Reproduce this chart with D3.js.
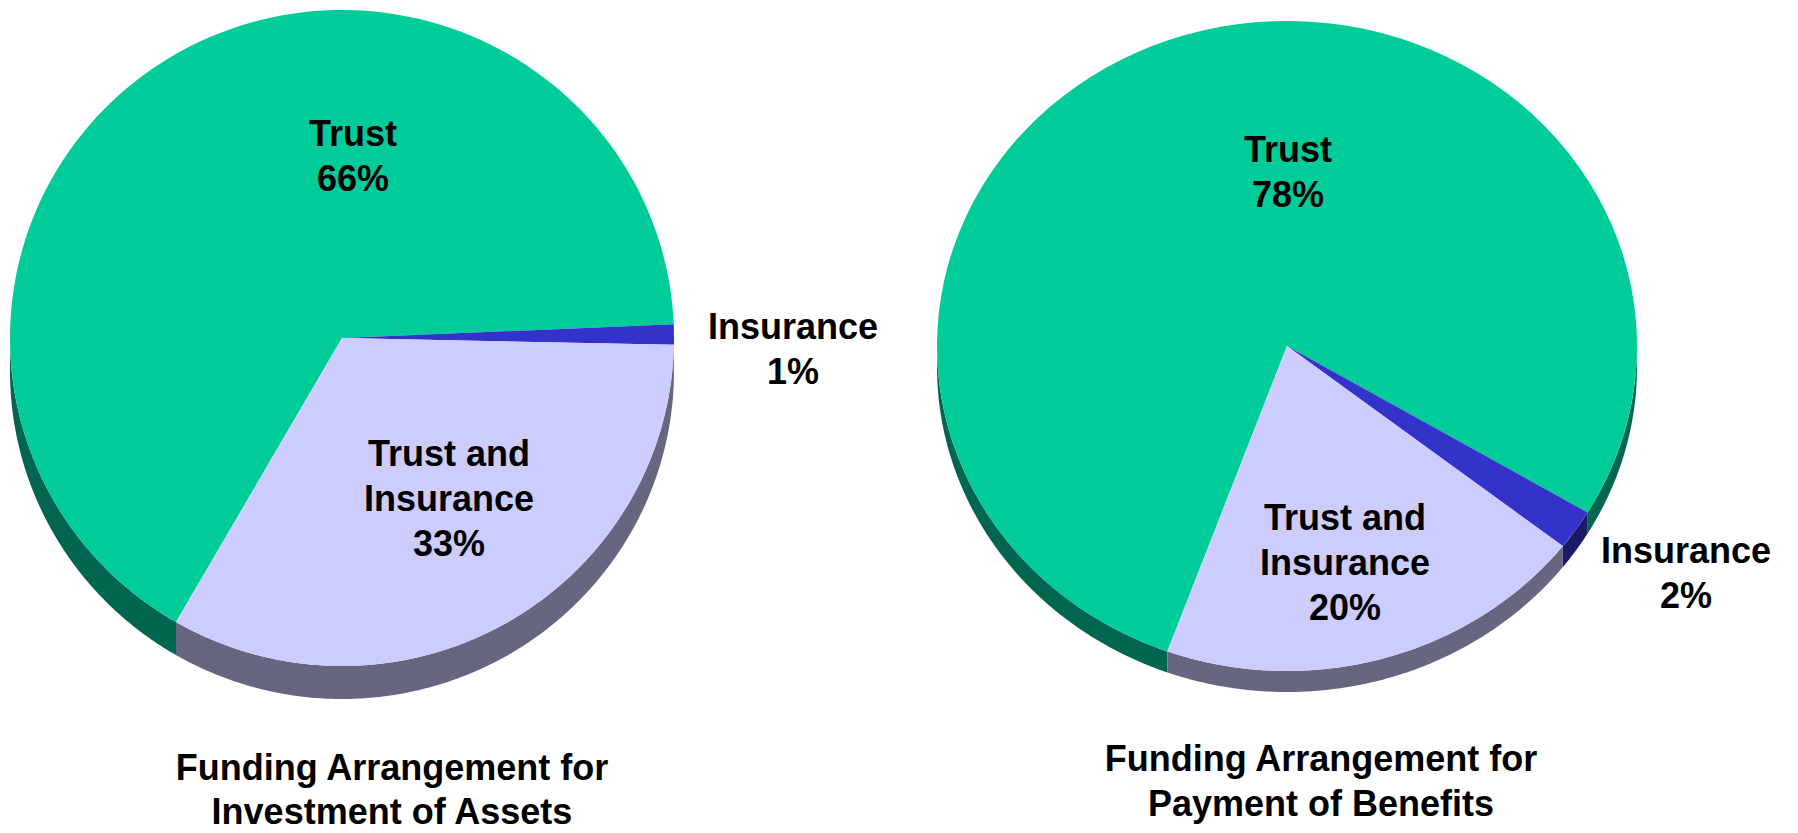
<!DOCTYPE html>
<html lang="en">
<head>
<meta charset="utf-8">
<title>Funding Arrangement</title>
<script src="https://d3js.org/d3.v7.min.js"></script>
<style>
    html, body {
        margin: 0;
        padding: 0;
        background: #fff;
    }
    svg {
        display: block;
    }
    .lbl {
        font-family: "Liberation Sans", Arial, sans-serif;
        font-weight: bold;
        font-size: 36px;
        fill: #000;
    }
</style>
</head>
<body>
<svg id="chart" width="1798" height="833"></svg>
<script>

//_____________________________DATA_____________________________
var categories = ["Trust", "Insurance", "Trust and Insurance"];
var labelLines = [["Trust"], ["Insurance"], ["Trust and", "Insurance"]];
var assetsValues = [66, 1, 33];
var benefitsValues = [78, 2, 20];
var chartTitles = [
    ["Funding Arrangement for", "Investment of Assets"],
    ["Funding Arrangement for", "Payment of Benefits"]
];

//_____________________________STYLE_____________________________
var topColors = ["#00CC99", "#3333CC", "#CCCCFF"];
var sideColors = ["#006650", "#1A1A66", "#666680"];
var lineGap = 45;

// one layout per pie: centre, radii, thickness, start angle, label anchors
var layouts = [
    { cx: 342, cy: 338, rx: 332, ry: 328, depth: 33, start: 210,
      labels: [[353, 146], [793, 339], [449, 466]], title: [392, 780], titleGap: 44 },
    { cx: 1287, cy: 346, rx: 350, ry: 325, depth: 21, start: 200,
      labels: [[1288, 162], [1686, 563], [1345, 530]], title: [1321, 771], titleGap: 45 }
];

var svg = d3.select("#chart");
var rad = Math.PI / 180;

var pie = d3.pie().sort(null).value(function (d) { return d; });

var wallLine = d3.line()
    .x(function (p) { return p[0]; })
    .y(function (p) { return p[1]; });

//_____________________________DRAW_____________________________
[assetsValues, benefitsValues].forEach(function (values, k) {
    var L = layouts[k];
    var arcs = pie.startAngle(L.start * rad).endAngle((L.start + 360) * rad)(values);
    var g = svg.append("g");

    // side walls: only the front half (d3 angle 90..270, plus one turn) shows
    arcs.forEach(function (a, i) {
        [[90, 270], [450, 630]].forEach(function (win) {
            var a0 = Math.max(a.startAngle / rad, win[0]);
            var a1 = Math.min(a.endAngle / rad, win[1]);
            if (a1 <= a0) return;
            var steps = d3.range(a0, a1, 0.5).concat([a1]);
            var top = steps.map(function (t) {
                return [L.cx + L.rx * Math.sin(t * rad), L.cy - L.ry * Math.cos(t * rad)];
            });
            var bottom = top.slice().reverse().map(function (p) { return [p[0], p[1] + L.depth]; });
            g.append("path")
                .attr("d", wallLine(top.concat(bottom)) + "Z")
                .attr("fill", sideColors[i]);
        });
    });

    // top face: circular arc squashed into the ellipse
    var arc = d3.arc().innerRadius(0).outerRadius(L.rx);
    g.append("g")
        .attr("transform", "translate(" + L.cx + "," + L.cy + ") scale(1," + (L.ry / L.rx) + ")")
        .selectAll("path")
        .data(arcs)
        .enter().append("path")
        .attr("d", arc)
        .attr("fill", function (d, i) { return topColors[i]; });

    // slice labels
    arcs.forEach(function (a, i) {
        var lines = labelLines[i].concat([a.data + "%"]);
        var t = g.append("text")
            .attr("class", "lbl")
            .attr("text-anchor", "middle")
            .attr("x", L.labels[i][0])
            .attr("y", L.labels[i][1]);
        t.selectAll("tspan")
            .data(lines)
            .enter().append("tspan")
            .attr("x", L.labels[i][0])
            .attr("dy", function (d, j) { return j === 0 ? 0 : lineGap; })
            .text(function (d) { return d; });
    });

    // chart title below the pie
    var ttl = g.append("text")
        .attr("class", "lbl")
        .attr("text-anchor", "middle")
        .attr("x", L.title[0])
        .attr("y", L.title[1]);
    ttl.selectAll("tspan")
        .data(chartTitles[k])
        .enter().append("tspan")
        .attr("x", L.title[0])
        .attr("dy", function (d, j) { return j === 0 ? 0 : L.titleGap; })
        .text(function (d) { return d; });
});

</script>
</body>
</html>
